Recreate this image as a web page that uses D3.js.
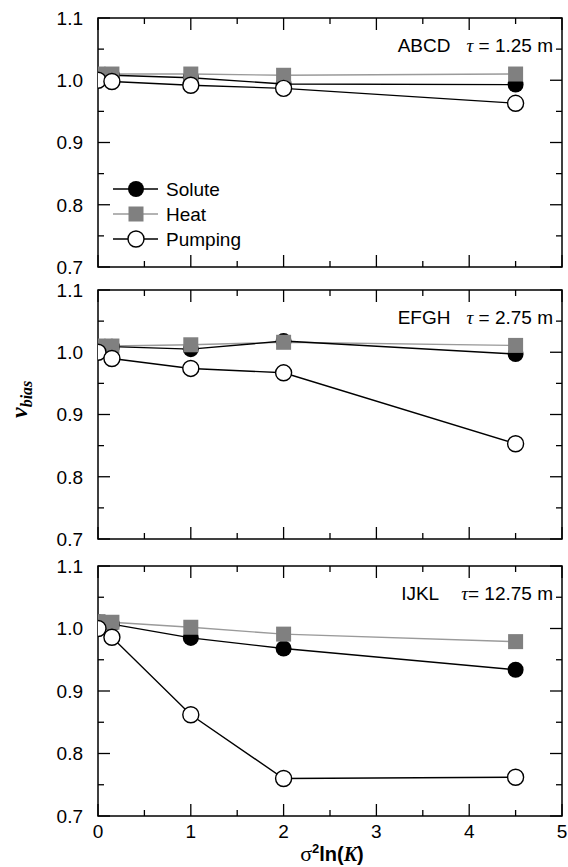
<!DOCTYPE html>
<html>
<head>
<meta charset="utf-8">
<script src="https://cdn.jsdelivr.net/npm/d3@7"></script>
<style>
  body { margin: 0; background: #fff; }
  svg { display: block; }
</style>
</head>
<body>
<svg id="chart" width="568" height="867"></svg>
<script>
// ---- data ----
const xValues = [0, 0.15, 1, 2, 4.5];
const panelNames = ["ABCD", "EFGH", "IJKL"];
const panelTau = ["1.25", "2.75", "12.75"];
const seriesNames = ["Solute", "Heat", "Pumping"];
// values per panel
const soluteABCD = [1.008, 1.008, 1.004, 0.994, 0.993];
const heatABCD = [1.010, 1.010, 1.010, 1.008, 1.010];
const pumpingABCD = [1.000, 0.998, 0.992, 0.987, 0.963];
const soluteEFGH = [1.008, 1.009, 1.005, 1.018, 0.997];
const heatEFGH = [1.010, 1.010, 1.012, 1.016, 1.011];
const pumpingEFGH = [1.000, 0.990, 0.974, 0.967, 0.853];
const soluteIJKL = [1.010, 1.007, 0.985, 0.968, 0.934];
const heatIJKL = [1.011, 1.010, 1.002, 0.991, 0.979];
const pumpingIJKL = [1.000, 0.986, 0.862, 0.760, 0.762];
const yTicks = [0.7, 0.8, 0.9, 1.0, 1.1];
const xTicks = [0, 1, 2, 3, 4, 5];

const panelData = [
  [soluteABCD, heatABCD, pumpingABCD],
  [soluteEFGH, heatEFGH, pumpingEFGH],
  [soluteIJKL, heatIJKL, pumpingIJKL]
];

// ---- layout ----
const left = 98, right = 562;
const panels = [{top: 18, bottom: 267}, {top: 290, bottom: 539}, {top: 566, bottom: 816}];
const svg = d3.select("#chart");
const x = d3.scaleLinear().domain([0, 5]).range([left, right]);
const sans = "'Liberation Sans', Arial, Helvetica, sans-serif";
const serif = "'Liberation Serif', 'Times New Roman', serif";
const fs = 19;

panels.forEach((p, pi) => {
  const y = d3.scaleLinear().domain([0.7, 1.1]).range([p.bottom, p.top]);
  const g = svg.append("g");
  const clipId = "clip" + pi;
  svg.append("clipPath").attr("id", clipId).append("rect")
    .attr("x", left).attr("y", p.top).attr("width", right - left).attr("height", p.bottom - p.top);

  // axes with inward ticks
  const xMajor = d3.range(0, 5.01, 1);
  const xMinor = d3.range(0.5, 5, 1);
  const yMajor = yTicks;
  const yMinor = [0.75, 0.85, 0.95, 1.05];
  const M = 12, m = 6;
  const tickG = g.append("g").attr("stroke", "#000").attr("stroke-width", 1.3);
  function vt(xx, len, bottom) {
    const y0 = bottom ? p.bottom : p.top;
    tickG.append("line").attr("x1", x(xx)).attr("x2", x(xx)).attr("y1", y0).attr("y2", bottom ? y0 - len : y0 + len);
  }
  function ht(yy, len, atLeft) {
    const x0 = atLeft ? left : right;
    tickG.append("line").attr("y1", y(yy)).attr("y2", y(yy)).attr("x1", x0).attr("x2", atLeft ? x0 + len : x0 - len);
  }
  xMajor.forEach(v => { vt(v, M, true); vt(v, M, false); });
  xMinor.forEach(v => { vt(v, m, true); vt(v, m, false); });
  yMajor.forEach(v => { ht(v, M, true); ht(v, M, false); });
  yMinor.forEach(v => { ht(v, m, true); ht(v, m, false); });

  g.append("rect").attr("x", left).attr("y", p.top).attr("width", right - left).attr("height", p.bottom - p.top)
    .attr("fill", "none").attr("stroke", "#000").attr("stroke-width", 1.5);

  // y tick labels
  g.selectAll(".ylab").data(yTicks).enter().append("text")
    .attr("x", 83).attr("y", d => y(d)).attr("dy", "0.36em")
    .attr("text-anchor", "end").attr("font-family", sans).attr("font-size", fs)
    .text(d => d3.format(".1f")(d));

  // x tick labels for bottom panel
  if (pi === 2) {
    g.selectAll(".xlab").data(xTicks).enter().append("text")
      .attr("x", d => x(d)).attr("y", 838)
      .attr("text-anchor", "middle").attr("font-family", sans).attr("font-size", fs)
      .text(d => d);
  }

  // annotation
  const ann = g.append("text").attr("x", 553).attr("y", p.top + 34).attr("text-anchor", "end")
    .attr("font-family", sans).attr("font-size", fs);
  ann.append("tspan").text(panelNames[pi]);
  ann.append("tspan").attr("dx", pi === 2 ? 22 : 16).attr("font-family", serif).attr("font-style", "italic").text("\u03C4");
  ann.append("tspan").text((pi === 0 || pi === 1 ? " = " : "= ") + panelTau[pi] + " m");

  // data
  const plot = g.append("g").attr("clip-path", `url(#${clipId})`);
  const [sol, heat, pump] = panelData[pi];
  const line = d3.line().x((d, i) => x(xValues[i])).y(d => y(d));
  plot.append("path").datum(heat).attr("d", line).attr("fill", "none").attr("stroke", "#9a9a9a").attr("stroke-width", 1.4);
  plot.append("path").datum(sol).attr("d", line).attr("fill", "none").attr("stroke", "#000").attr("stroke-width", 1.4);
  plot.append("path").datum(pump).attr("d", line).attr("fill", "none").attr("stroke", "#000").attr("stroke-width", 1.4);
  plot.selectAll(".sol").data(sol).enter().append("circle")
    .attr("cx", (d, i) => x(xValues[i])).attr("cy", d => y(d)).attr("r", 8).attr("fill", "#000");
  plot.selectAll(".heat").data(heat).enter().append("rect")
    .attr("x", (d, i) => x(xValues[i]) - 7.5).attr("y", d => y(d) - 7.5)
    .attr("width", 15).attr("height", 15).attr("fill", "#808080");
  plot.selectAll(".pump").data(pump).enter().append("circle")
    .attr("cx", (d, i) => x(xValues[i])).attr("cy", d => y(d)).attr("r", 8)
    .attr("fill", "#fff").attr("stroke", "#000").attr("stroke-width", 1.4);

  // legend in first panel
  if (pi === 0) {
    const legY = [189, 214, 239];
    seriesNames.forEach((name, k) => {
      const lg = g.append("g");
      lg.append("line").attr("x1", 113).attr("x2", 158).attr("y1", legY[k]).attr("y2", legY[k])
        .attr("stroke", k === 1 ? "#9a9a9a" : "#000").attr("stroke-width", 1.4);
      if (k === 0) lg.append("circle").attr("cx", 136).attr("cy", legY[k]).attr("r", 8).attr("fill", "#000");
      if (k === 1) lg.append("rect").attr("x", 128.5).attr("y", legY[k] - 7.5).attr("width", 15).attr("height", 15).attr("fill", "#808080");
      if (k === 2) lg.append("circle").attr("cx", 136).attr("cy", legY[k]).attr("r", 8).attr("fill", "#fff").attr("stroke", "#000").attr("stroke-width", 1.4);
      lg.append("text").attr("x", 166).attr("y", legY[k]).attr("dy", "0.36em")
        .attr("font-family", sans).attr("font-size", fs).text(name);
    });
  }
});

// y-axis title
const yt = svg.append("text").attr("transform", "translate(27,418) rotate(-90)")
  .attr("font-family", serif).attr("font-weight", "bold").attr("font-style", "italic");
yt.append("tspan").attr("font-size", 24).text("v");
yt.append("tspan").attr("font-size", 16).attr("dy", 5).text("bias");

// x-axis title
const xt = svg.append("text").attr("x", 332).attr("y", 861).attr("text-anchor", "middle")
  .attr("font-weight", "bold").attr("font-size", 20).attr("font-family", sans);
xt.append("tspan").attr("font-family", serif).attr("font-weight", "normal").attr("font-size", 22).text("\u03C3");
xt.append("tspan").attr("font-size", 13).attr("dy", -8).text("2");
xt.append("tspan").attr("dy", 8).text("ln(");
xt.append("tspan").attr("font-family", serif).attr("font-style", "italic").text("K");
xt.append("tspan").text(")");
</script>
</body>
</html>
